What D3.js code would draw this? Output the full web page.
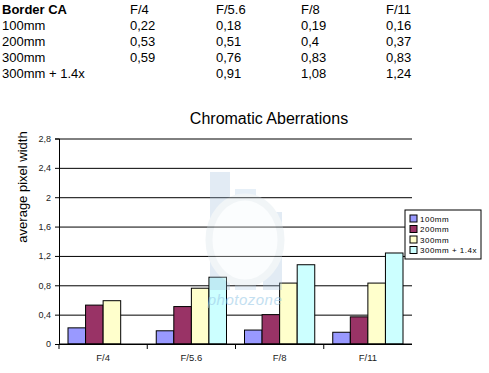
<!DOCTYPE html>
<html>
<head>
<meta charset="utf-8">
<script src="https://cdn.jsdelivr.net/npm/d3@7"></script>
<style>
  body { margin: 0; background: #fff; }
  svg { display: block; font-family: "Liberation Sans", Arial, sans-serif; }
</style>
</head>
<body>
<script>
// chart data
var categories = ["F/4", "F/5.6", "F/8", "F/11"];
var series = ["100mm", "200mm", "300mm", "300mm + 1.4x"];
var v100 = [0.22, 0.18, 0.19, 0.16];
var v200 = [0.53, 0.51, 0.4, 0.37];
var v300 = [0.59, 0.76, 0.83, 0.83];
var v300tc = [null, 0.91, 1.08, 1.24];
var yTicks = [0, 0.4, 0.8, 1.2, 1.6, 2, 2.4, 2.8];
var colors = ["#9999ff", "#993366", "#ffffcc", "#ccffff"];

var values = [v100, v200, v300, v300tc];
var comma = function(v){ return String(v).replace(".", ","); };

var width = 489,
    height = 373;

var svg = d3.select("body").append("svg")
    .attr("width", width)
    .attr("height", height);

// table on top
var table = svg.append("g").attr("font-size", 13).attr("fill", "#000");
var colX = [2, 130, 216, 301, 386];
var rowY = [14, 30, 46, 62, 78];
table.append("text").attr("x", colX[0]).attr("y", rowY[0])
    .attr("font-weight", "bold").text("Border CA");
categories.forEach(function(c, i){
  table.append("text").attr("x", colX[i + 1]).attr("y", rowY[0]).text(c);
});
series.forEach(function(s, j){
  table.append("text").attr("x", colX[0]).attr("y", rowY[j + 1]).text(s);
  values[j].forEach(function(v, i){
    if (v == null) return;
    table.append("text").attr("x", colX[i + 1]).attr("y", rowY[j + 1]).text(comma(v));
  });
});

// chart
var pLeft = 59, pRight = 412, pTop = 138.5, pBottom = 344;

var x = d3.scaleBand().domain(categories).range([pLeft, pRight]);
var x1 = d3.scaleBand().domain(series).range([9, x.bandwidth() - 9]);
var y = d3.scaleLinear().domain([0, 2.8]).range([pBottom, pTop]);

// grid
svg.append("g")
    .attr("transform", "translate(" + pLeft + ",0)")
    .call(d3.axisLeft(y).tickValues(yTicks).tickSize(-(pRight - pLeft)).tickFormat(""))
    .call(function(g){
      g.select(".domain").remove();
      g.selectAll("line").attr("stroke", "#000");
    });

// bars
categories.forEach(function(c, i){
  series.forEach(function(s, j){
    var v = values[j][i];
    if (v == null) return;
    svg.append("rect")
        .attr("x", x(c) + x1(s))
        .attr("y", y(v))
        .attr("width", x1.bandwidth())
        .attr("height", y(0) - y(v))
        .attr("fill", colors[j])
        .attr("stroke", "#000")
        .attr("stroke-width", 1);
  });
});

// watermark, laid over the plot
var wm = svg.append("g").attr("opacity", 0.3);
wm.append("rect").attr("x", 210).attr("y", 172).attr("width", 20).attr("height", 118).attr("fill", "#a3c0dc");
wm.append("rect").attr("x", 235).attr("y", 189).attr("width", 21).attr("height", 101).attr("fill", "#b0cbe6");
wm.append("rect").attr("x", 263).attr("y", 212).attr("width", 19).attr("height", 78).attr("fill", "#a3c0dc");
wm.append("ellipse").attr("cx", 245).attr("cy", 240).attr("rx", 36).attr("ry", 43)
    .attr("fill", "#f4f9fc").attr("stroke", "#d3e0e8").attr("stroke-width", 7);
svg.append("text").attr("x", 245).attr("y", 305).attr("text-anchor", "middle")
    .attr("font-size", 15).attr("font-style", "italic").attr("fill", "#9ccbe8")
    .attr("opacity", 0.6)
    .attr("letter-spacing", 0.5).text("photozone");

// y axis
svg.append("g")
    .attr("transform", "translate(" + pLeft + ",0)")
    .call(d3.axisLeft(y).tickValues(yTicks).tickSize(4).tickPadding(4).tickFormat(comma))
    .call(function(g){
      g.selectAll("line, path").attr("stroke", "#000");
      g.selectAll("text").attr("font-size", 9).attr("fill", "#222")
          .attr("font-family", "Liberation Sans, Arial, sans-serif");
    });

// x axis
var xg = svg.append("g").attr("transform", "translate(0," + pBottom + ")");
xg.append("line").attr("x1", pLeft).attr("x2", pRight).attr("stroke", "#000");
xg.selectAll(".tk").data(categories).enter().append("line")
    .attr("x1", function(d){ return x(d); })
    .attr("x2", function(d){ return x(d); })
    .attr("y1", 0).attr("y2", 5)
    .attr("stroke", "#000");
xg.selectAll(".lb").data(categories).enter().append("text")
    .attr("x", function(d){ return x(d) + x.bandwidth() / 2; })
    .attr("y", 17)
    .attr("text-anchor", "middle")
    .attr("font-size", 9.5)
    .attr("fill", "#222")
    .text(function(d){ return d; });

// title and y label
svg.append("text").attr("x", 269).attr("y", 124).attr("text-anchor", "middle")
    .attr("font-size", 16).attr("fill", "#000").text("Chromatic Aberrations");
svg.append("text")
    .attr("transform", "translate(27,187) rotate(-90)")
    .attr("text-anchor", "middle")
    .attr("font-size", 13).attr("fill", "#000")
    .text("average pixel width");

// legend
var lg = svg.append("g").attr("transform", "translate(405,210)");
lg.append("rect").attr("width", 76).attr("height", 49)
    .attr("fill", "#fff").attr("stroke", "#000");
series.forEach(function(s, j){
  var row = lg.append("g").attr("transform", "translate(5," + (5 + j * 10.5) + ")");
  row.append("rect").attr("width", 7).attr("height", 7)
      .attr("fill", colors[j]).attr("stroke", "#000");
  row.append("text").attr("x", 10).attr("y", 6.5)
      .attr("font-size", 8).attr("letter-spacing", 0.5).attr("fill", "#000").text(s);
});
</script>
</body>
</html>
